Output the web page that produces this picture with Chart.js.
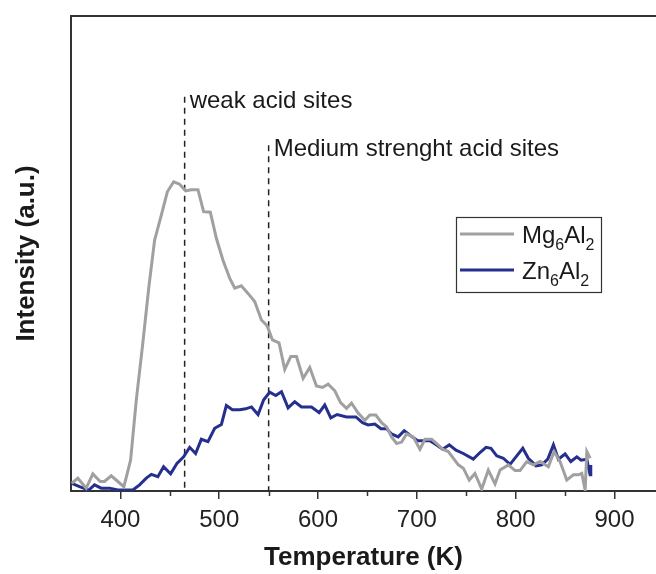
<!DOCTYPE html>
<html>
<head>
<meta charset="utf-8">
<script src="https://cdn.jsdelivr.net/npm/chart.js@4.4.1/dist/chart.umd.min.js"></script>
<style>
  html, body { margin: 0; padding: 0; background: #fff; }
  #wrap { width: 656px; height: 574px; }
</style>
</head>
<body>
<div id="wrap"><canvas id="tpd" width="656" height="574"></canvas></div>
<script>
// Mg6Al2 (gris)
var mgTemp = [350.8, 356.9, 365.4, 372.1, 379.6, 383.9, 390.7, 397.4, 403.5, 410.3,
  416.1, 422.7, 428.8, 434.6, 441.4, 447.5, 453.9, 459.9, 466.0, 471.8,
  478.5, 484.2, 491.0, 497.1, 503.8, 510.6, 515.7, 522.4, 529.1, 535.9,
  542.7, 548.4, 553.9, 560.5, 566.3, 572.4, 578.2, 584.9, 591.6, 598.4,
  604.5, 610.2, 617.0, 622.8, 628.8, 633.9, 640.6, 647.4, 652.4, 658.5,
  664.3, 669.4, 674.4, 679.5, 684.6, 689.6, 696.3, 703.1, 708.2, 715.0,
  720.0, 726.1, 731.8, 736.8, 741.9, 747.0, 753.0, 758.8, 765.6, 772.3,
  779.1, 784.2, 792.6, 799.4, 804.4, 811.2, 817.9, 824.7, 833.1, 838.9,
  844.9, 851.7, 858.4, 863.5, 866.9, 870.3, 872.0, 875.3];
var mgInt = [1.6, 2.7, 0.6, 3.6, 2.0, 2.0, 3.2, 2.0, 0.9, 6.5,
  19.2, 31.2, 43.0, 52.8, 58.1, 63.0, 65.1, 64.6, 63.2, 63.4,
  63.4, 58.8, 58.7, 53.2, 48.6, 44.8, 42.7, 43.2, 41.6, 39.9,
  36.0, 34.8, 31.8, 31.2, 25.6, 28.3, 28.3, 23.7, 26.0, 22.1,
  21.8, 22.5, 21.1, 18.6, 17.4, 18.5, 16.4, 14.9, 16.0, 16.0,
  14.4, 13.5, 11.4, 10.0, 10.3, 12.0, 11.4, 8.8, 10.9, 10.9,
  10.0, 8.8, 8.3, 6.9, 5.5, 4.8, 2.3, 3.7, 0.4, 4.4,
  1.5, 4.4, 5.5, 4.3, 4.3, 6.2, 5.5, 6.2, 5.1, 8.3,
  6.2, 2.3, 3.4, 3.4, 3.7, 0.2, 8.3, 6.9];

// Zn6Al2 (azul)
var znTemp = [350.8, 358.6, 368.0, 373.8, 380.6, 389.0, 397.4, 412.6, 419.4, 426.2,
  431.3, 437.9, 443.7, 450.8, 457.2, 464.0, 470.1, 476.1, 481.9, 488.6,
  495.4, 502.2, 507.2, 513.3, 520.7, 526.8, 532.6, 539.3, 545.0, 551.1,
  557.2, 563.0, 569.7, 576.4, 583.2, 593.4, 601.1, 606.8, 612.9, 619.3,
  628.8, 638.3, 645.0, 650.7, 657.5, 663.6, 669.4, 674.4, 681.1, 687.2,
  694.0, 700.8, 713.2, 720.0, 726.1, 732.8, 739.6, 747.0, 757.1, 763.9,
  770.0, 775.0, 780.8, 787.5, 794.3, 801.1, 807.2, 812.8, 820.6, 826.4,
  832.5, 838.2, 843.2, 850.0, 855.8, 861.9, 866.2, 872.0, 873.6, 875.3, 876.0];
var znInt = [1.6, 0.9, 0.2, 1.3, 0.6, 0.6, 0.2, 0.2, 1.3, 2.7,
  3.5, 3.0, 5.1, 3.6, 5.8, 7.2, 9.2, 7.9, 10.9, 10.4,
  13.2, 14.0, 18.0, 17.1, 17.1, 17.3, 17.7, 16.1, 19.2, 20.8,
  20.1, 20.9, 17.5, 18.8, 17.7, 17.7, 16.5, 18.1, 15.4, 16.1,
  15.6, 15.6, 14.4, 13.9, 14.1, 13.1, 13.1, 12.0, 11.4, 12.7,
  11.6, 10.6, 10.6, 9.7, 8.8, 9.7, 8.6, 7.9, 6.7, 8.1,
  9.2, 9.0, 7.4, 6.9, 5.6, 7.4, 9.0, 6.9, 5.3, 5.5,
  6.7, 9.7, 6.7, 7.8, 6.2, 7.2, 6.5, 6.7, 5.0, 3.4, 5.5];

// marcas de sitios ácidos
var siteTemp = [465, 550];
var siteTop = [83, 72.8];
var siteLabel = ["weak acid sites", "Medium strenght acid sites"];

var xTicks = [400, 500, 600, 700, 800, 900];
var xMinor = [450, 550, 650, 750, 850];

var gris = '#a0a0a0';
var azul = '#252f8e';
var ejes = '#333333';

function puntos(xs, ys) {
  return xs.map(function(x, i) { return { x: x, y: ys[i] }; });
}

// ejes extra: borde superior, ticks menores, textos y leyenda
var extras = {
  id: 'extras',
  afterDraw: function(chart) {
    var ctx = chart.ctx;
    var area = chart.chartArea;
    var sx = chart.scales.x;
    var sy = chart.scales.y;
    ctx.save();
    ctx.strokeStyle = ejes;
    ctx.lineWidth = 2;
    ctx.beginPath();
    ctx.moveTo(area.left - 1, area.top);
    ctx.lineTo(area.right, area.top);
    ctx.stroke();

    ctx.lineWidth = 1.5;
    xMinor.forEach(function(v) {
      var px = Math.round(sx.getPixelForValue(v)) + 0.5;
      ctx.beginPath();
      ctx.moveTo(px, area.bottom);
      ctx.lineTo(px, area.bottom + 5);
      ctx.stroke();
    });

    ctx.fillStyle = '#1a1a1a';
    ctx.font = '24px "Liberation Sans", Arial, sans-serif';
    ctx.textBaseline = 'alphabetic';
    siteTemp.forEach(function(t, i) {
      var px = sx.getPixelForValue(t);
      var py = sy.getPixelForValue(siteTop[i]);
      ctx.fillText(siteLabel[i], px + 5, py + 11);
    });

    // leyenda
    var bx = 456, by = 217, bw = 145, bh = 75;
    ctx.strokeStyle = ejes;
    ctx.lineWidth = 1.2;
    ctx.strokeRect(bx + 0.5, by + 0.5, bw, bh);
    var filas = [
      { color: gris, y: 234, parts: [['Mg', 0], ['6', 1], ['Al', 0], ['2', 1]] },
      { color: azul, y: 270, parts: [['Zn', 0], ['6', 1], ['Al', 0], ['2', 1]] }
    ];
    filas.forEach(function(f) {
      ctx.strokeStyle = f.color;
      ctx.lineWidth = 3;
      ctx.beginPath();
      ctx.moveTo(460, f.y);
      ctx.lineTo(514, f.y);
      ctx.stroke();
      var x = 522;
      f.parts.forEach(function(p) {
        ctx.font = (p[1] ? '16px' : '24px') + ' "Liberation Sans", Arial, sans-serif';
        ctx.fillText(p[0], x, f.y + (p[1] ? 16 : 9));
        x += ctx.measureText(p[0]).width;
      });
    });
    ctx.restore();
  }
};

new Chart(document.getElementById('tpd'), {
  type: 'line',
  data: {
    datasets: [
      { label: 'Mg₆Al₂', data: puntos(mgTemp, mgInt), borderColor: gris, borderWidth: 3, pointRadius: 0, tension: 0 },
      { label: 'Zn₆Al₂', data: puntos(znTemp, znInt), borderColor: azul, borderWidth: 3, pointRadius: 0, tension: 0 },
      { label: 'weak', data: [{ x: siteTemp[0], y: siteTop[0] }, { x: siteTemp[0], y: 0 }], borderColor: '#222', borderWidth: 1.5, borderDash: [6, 5], pointRadius: 0 },
      { label: 'medium', data: [{ x: siteTemp[1], y: siteTop[1] }, { x: siteTemp[1], y: 0 }], borderColor: '#222', borderWidth: 1.5, borderDash: [6, 5], pointRadius: 0 }
    ]
  },
  options: {
    responsive: false,
    animation: false,
    devicePixelRatio: 1,
    layout: { padding: { top: 16, right: 0, left: 0, bottom: 0 } },
    plugins: { legend: { display: false }, tooltip: { enabled: false } },
    scales: {
      x: {
        type: 'linear',
        min: 350,
        max: 942,
        afterBuildTicks: function(scale) {
          scale.ticks = xTicks.map(function(v) { return { value: v }; });
        },
        afterFit: function(scale) { scale.height = 83; },
        grid: { display: true, drawOnChartArea: false, drawTicks: true, tickLength: 8, color: ejes, lineWidth: 1.5 },
        border: { display: true, color: ejes, width: 2 },
        ticks: { color: '#222', padding: 7, maxRotation: 0, font: { size: 24, family: '"Liberation Sans", Arial, sans-serif' } },
        title: { display: true, text: 'Temperature (K)', color: '#1a1a1a', padding: { top: 0, bottom: 1 },
          font: { size: 26, weight: 'bold', family: '"Liberation Sans", Arial, sans-serif' } }
      },
      y: {
        type: 'linear',
        min: 0,
        max: 100,
        afterFit: function(scale) { scale.width = 71; },
        grid: { display: false },
        border: { display: true, color: ejes, width: 2 },
        ticks: { display: false },
        title: { display: true, text: 'Intensity (a.u.)', color: '#1a1a1a', padding: { top: 11, bottom: 0 },
          font: { size: 26, weight: 'bold', family: '"Liberation Sans", Arial, sans-serif' } }
      }
    }
  },
  plugins: [extras]
});
</script>
</body>
</html>
